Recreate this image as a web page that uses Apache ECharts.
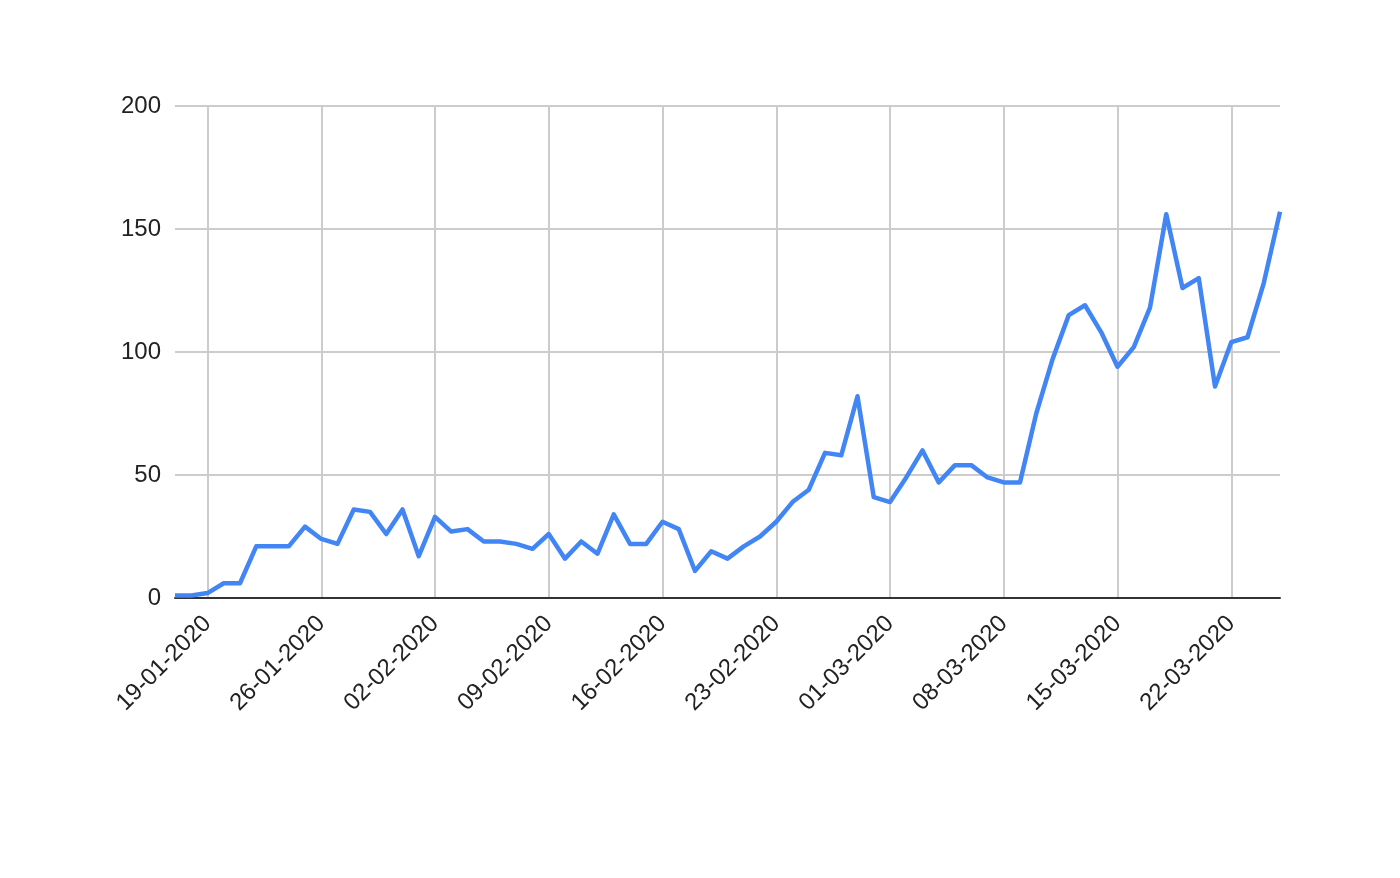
<!DOCTYPE html>
<html>
<head>
<meta charset="utf-8">
<script src="https://cdn.jsdelivr.net/npm/echarts@6/dist/echarts.min.js"></script>
<style>html,body{margin:0;padding:0;background:#fff}#c{width:1400px;height:878px}</style>
</head>
<body>
<div id="c"></div>
<script>
const categories = [
'17-01-2020','18-01-2020','19-01-2020','20-01-2020','21-01-2020','22-01-2020','23-01-2020','24-01-2020','25-01-2020','26-01-2020','27-01-2020','28-01-2020','29-01-2020','30-01-2020','31-01-2020',
'01-02-2020','02-02-2020','03-02-2020','04-02-2020','05-02-2020','06-02-2020','07-02-2020','08-02-2020','09-02-2020','10-02-2020','11-02-2020','12-02-2020','13-02-2020','14-02-2020','15-02-2020','16-02-2020','17-02-2020','18-02-2020','19-02-2020','20-02-2020','21-02-2020','22-02-2020','23-02-2020','24-02-2020','25-02-2020','26-02-2020','27-02-2020','28-02-2020','29-02-2020',
'01-03-2020','02-03-2020','03-03-2020','04-03-2020','05-03-2020','06-03-2020','07-03-2020','08-03-2020','09-03-2020','10-03-2020','11-03-2020','12-03-2020','13-03-2020','14-03-2020','15-03-2020','16-03-2020','17-03-2020','18-03-2020','19-03-2020','20-03-2020','21-03-2020','22-03-2020','23-03-2020','24-03-2020','25-03-2020'
];
const values = [
1,1,2,6,6,21,21,21,29,24,22,36,35,26,36,
17,33,27,28,23,23,22,20,26,16,23,18,34,22,22,31,28,11,19,16,21,25,31,39,44,59,58,82,41,
39,49,60,47,54,54,49,47,47,75,97,115,119,108,94,102,118,156,126,130,86,104,106,128,157
];
const yTicks = [0, 50, 100, 150, 200];

const chart = echarts.init(document.getElementById('c'));
const showIdx = (i) => (i % 7) === 2;
chart.setOption({
  animation: false,
  grid: { left: 175, right: 120, top: 106, bottom: 280, containLabel: false },
  xAxis: {
    type: 'category',
    data: categories,
    boundaryGap: false,
    axisLine: { show: true, lineStyle: { color: '#333', width: 2 } },
    axisTick: { show: false },
    axisLabel: {
      interval: showIdx,
      rotate: 45,
      fontSize: 24,
      color: '#222',
      fontFamily: 'Liberation Sans, Arial, sans-serif',
      margin: 22
    },
    splitLine: { show: true, interval: showIdx, lineStyle: { color: '#cccccc', width: 2 } }
  },
  yAxis: {
    type: 'value',
    min: yTicks[0],
    max: yTicks[yTicks.length - 1],
    interval: 50,
    axisLine: { show: false },
    axisTick: { show: false },
    axisLabel: { fontSize: 24, color: '#222', fontFamily: 'Liberation Sans, Arial, sans-serif', margin: 14 },
    splitLine: { show: true, lineStyle: { color: '#cccccc', width: 2 } }
  },
  series: [{
    type: 'line',
    data: values,
    showSymbol: false,
    symbol: 'none',
    lineStyle: { color: '#4285F4', width: 4.5, join: 'round' },
    itemStyle: { color: '#4285F4' }
  }]
});
</script>
</body>
</html>
